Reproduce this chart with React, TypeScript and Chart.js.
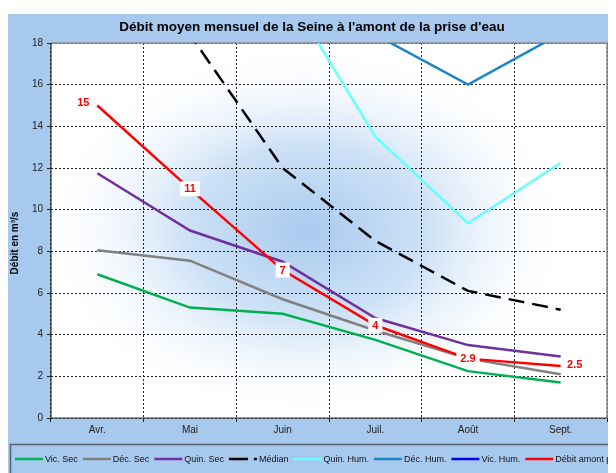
import React, { useEffect, useRef } from "react";
import { Chart, registerables } from "chart.js";

Chart.register(...registerables);

const chartTitle = "Débit moyen mensuel de la Seine à l'amont de la prise d'eau";
const yAxisTitle = "Débit en m³/s";
const months = ["Avr.", "Mai", "Juin", "Juil.", "Août", "Sept."];

const vicSec = [6.9, 5.3, 5.0, 3.75, 2.25, 1.7];
const decSec = [8.05, 7.55, 5.7, 4.2, 2.85, 2.1];
const quinSec = [11.75, 9.0, 7.5, 4.8, 3.5, 2.95];
const median = [24, 18.4, 12.0, 8.5, 6.1, 5.2];
const quinHum = [27, 24, 20.8, 13.5, 9.35, 12.25];
const decHum = [34, 30, 24, 18.4, 16.0, 18.45];
const vicHum = [50, 45, 36, 29, 26, 29];
const debitAmont = [15, 11, 7.1, 4.45, 2.85, 2.5];
const debitLabels = ["15", "11", "7", "4", "2.9", "2.5"];

const yMin = 0;
const yMax = 18;
const yStep = 2;

const seriesNames = ["Vic. Sec", "Déc. Sec", "Quin. Sec", "Médian", "Quin. Hum.", "Déc. Hum.", "Vic. Hum.", "Débit amont prise d'eau"];
const seriesColors = ["#00b050", "#808080", "#7030a0", "#000000", "#66ffff", "#1a86c8", "#0000ff", "#ff0000"];

const BG = "#a8c9ee";
const FONT = "Arial, 'Liberation Sans', sans-serif";

const bgPlugin = {
  id: "bgPlugin",
  beforeDraw(chart: any) {
    const { ctx, chartArea: a, width, height } = chart;
    ctx.save();
    ctx.fillStyle = BG;
    ctx.fillRect(0, 0, width, height);
    ctx.fillStyle = "#ffffff";
    ctx.fillRect(a.left, a.top, a.right - a.left, a.bottom - a.top);
    ctx.beginPath();
    ctx.rect(a.left, a.top, a.right - a.left, a.bottom - a.top);
    ctx.clip();
    const cx = a.left + (a.right - a.left) * 0.46;
    const cy = a.top + (a.bottom - a.top) * 0.5;
    const rx = 270;
    const ry = 190;
    ctx.translate(cx, cy);
    ctx.scale(rx / ry, 1);
    const g = ctx.createRadialGradient(0, 0, 0, 0, 0, ry);
    g.addColorStop(0, "rgba(168,202,238,1)");
    g.addColorStop(0.45, "rgba(200,222,245,0.9)");
    g.addColorStop(1, "rgba(255,255,255,0)");
    ctx.fillStyle = g;
    ctx.fillRect(-rx * 2, -ry * 2, rx * 4, ry * 4);
    ctx.restore();
  },
};

const framePlugin = {
  id: "framePlugin",
  beforeDatasetsDraw(chart: any) {
    const { ctx, chartArea: a } = chart;
    ctx.save();
    ctx.strokeStyle = "#858a94";
    ctx.lineWidth = 1.5;
    ctx.beginPath();
    ctx.moveTo(a.left, a.top);
    ctx.lineTo(a.right, a.top);
    ctx.lineTo(a.right, a.bottom);
    ctx.stroke();
    ctx.strokeStyle = "#333";
    ctx.lineWidth = 1.2;
    ctx.beginPath();
    ctx.moveTo(a.left, a.top);
    ctx.lineTo(a.left, a.bottom);
    ctx.lineTo(a.right, a.bottom);
    ctx.stroke();
    ctx.restore();
  },
};

const labelsPlugin = {
  id: "labelsPlugin",
  afterDatasetsDraw(chart: any) {
    const { ctx } = chart;
    const idx = chart.data.datasets.length - 1;
    const meta = chart.getDatasetMeta(idx);
    ctx.save();
    ctx.font = `bold 11px ${FONT}`;
    ctx.textAlign = "center";
    ctx.textBaseline = "middle";
    meta.data.forEach((pt: any, i: number) => {
      const txt = debitLabels[i];
      let x = pt.x;
      let y = pt.y;
      if (i === 0) { x -= 14; y -= 3; }
      if (i === debitLabels.length - 1) { x += 14; y -= 1; }
      const w = ctx.measureText(txt).width + 8;
      ctx.fillStyle = "#ffffff";
      ctx.fillRect(x - w / 2, y - 7.5, w, 15);
      ctx.fillStyle = "#ff0000";
      ctx.fillText(txt, x, y + 0.5);
    });
    ctx.restore();
  },
  afterDraw(chart: any) {
    const { ctx, width } = chart;
    ctx.save();
    // title
    ctx.fillStyle = "#000";
    ctx.font = `bold 13.5px ${FONT}`;
    ctx.textAlign = "center";
    ctx.textBaseline = "middle";
    ctx.fillText(chartTitle, 304, 13);
    // y title
    ctx.save();
    ctx.translate(7, 229);
    ctx.rotate(-Math.PI / 2);
    ctx.font = `bold 10px ${FONT}`;
    ctx.fillText(yAxisTitle, 0, 0);
    ctx.restore();
    // legend box
    ctx.strokeStyle = "#56606e";
    ctx.lineWidth = 1.5;
    ctx.strokeRect(2.5, 430.5, width + 20, 60);
    ctx.font = `9px ${FONT}`;
    ctx.textAlign = "left";
    let x = 7;
    const y = 445;
    seriesNames.forEach((name, i) => {
      ctx.save();
      ctx.strokeStyle = seriesColors[i];
      ctx.lineWidth = 2.5;
      if (i === 3) ctx.setLineDash([19, 6]);
      ctx.beginPath();
      ctx.moveTo(x, y);
      ctx.lineTo(x + 28, y);
      ctx.stroke();
      ctx.restore();
      ctx.fillStyle = "#111";
      ctx.fillText(name, x + 30, y + 0.5);
      x += 30 + ctx.measureText(name).width + 5;
    });
    ctx.restore();
  },
};

export default function App() {
  const ref = useRef<HTMLCanvasElement | null>(null);
  useEffect(() => {
    if (!ref.current) return;
    const all = [vicSec, decSec, quinSec, median, quinHum, decHum, vicHum, debitAmont];
    const datasets = all.map((d, i) => ({
      label: seriesNames[i],
      data: d,
      borderColor: seriesColors[i],
      backgroundColor: seriesColors[i],
      borderWidth: 2.5,
      borderDash: i === 3 ? [16, 8] : [],
      pointRadius: 0,
      tension: 0,
      fill: false,
      clip: 0,
      order: i === 7 ? -1 : 8 - i,
    }));
    const chart = new Chart(ref.current, {
      type: "line",
      data: { labels: months, datasets },
      plugins: [bgPlugin, framePlugin, labelsPlugin],
      options: {
        animation: false,
        responsive: true,
        maintainAspectRatio: false,
        layout: { padding: { top: 29, right: 9, bottom: 35, left: 0 } },
        plugins: { legend: { display: false }, title: { display: false }, tooltip: { enabled: false } },
        scales: {
          x: {
            type: "category",
            offset: true,
            afterFit: (s: any) => { s.height = 20; },
            grid: { offset: true, color: "#222", lineWidth: 1, tickLength: 4, tickColor: "#222", tickBorderDash: [] },
            border: { display: false, dash: [2, 2] },
            ticks: { color: "#222", font: { family: FONT, size: 10 }, padding: 2, maxRotation: 0 },
          },
          y: {
            min: yMin,
            max: yMax,
            afterFit: (s: any) => { s.width = 43; },
            grid: { color: "#222", lineWidth: 1, tickLength: 4, tickColor: "#222", tickBorderDash: [] },
            border: { display: false, dash: [2, 2] },
            ticks: { stepSize: yStep, color: "#222", font: { family: FONT, size: 10 }, padding: 4 },
          },
        },
      },
    });
    return () => chart.destroy();
  }, []);
  return (
    <div style={{ paddingTop: 6 }}>
      <div style={{ position: "relative", width: 608, height: 459 }}>
        <canvas ref={ref} />
      </div>
    </div>
  );
}
